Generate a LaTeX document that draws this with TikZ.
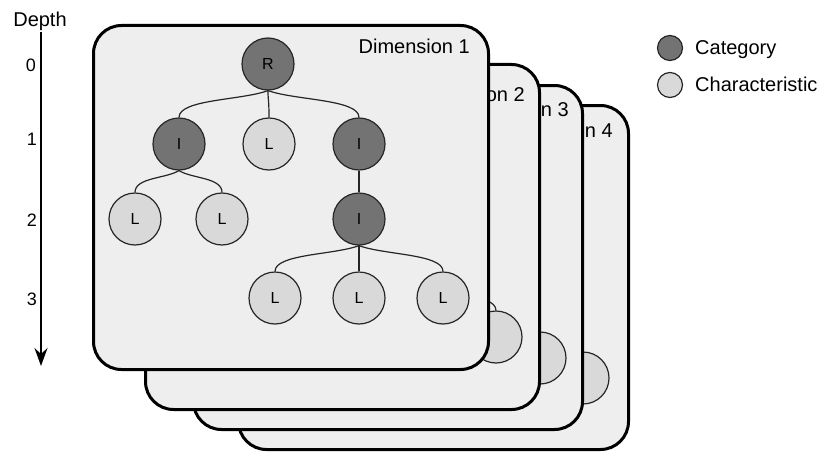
\documentclass[tikz,border=0pt]{standalone}
\usepackage{fontspec}
\setmainfont{Liberation Sans}
\usetikzlibrary{arrows.meta}
\definecolor{cardfill}{HTML}{EEEEEE}
\definecolor{catfill}{HTML}{737373}
\definecolor{charfill}{HTML}{D9D9D9}
\tikzset{
  cardbox/.style={draw=black, line width=3pt, fill=cardfill, rounded corners=28pt, inner sep=0pt, anchor=north west},
  cat/.style={circle, draw=black!85, line width=1.2pt, fill=catfill, minimum size=52pt, inner sep=0pt, font=\fontsize{16}{19}\selectfont},
  chr/.style={cat, fill=charfill},
  legdot/.style={circle, draw=black!85, line width=1.2pt, minimum size=25pt, inner sep=0pt},
  edge/.style={draw=black!85, line width=1.2pt},
  dimlabel/.style={anchor=base east, inner sep=0pt, font=\fontsize{20}{24}\selectfont},
  lbl/.style={inner sep=0pt, font=\fontsize{20}{24}\selectfont},
  digit/.style={inner sep=0pt, font=\fontsize{18}{22}\selectfont},
  axis/.style={draw=black, line width=1.2pt, -{Stealth[length=18pt,width=13pt,inset=6pt]}}
}
\newcommand\showletter[1]{#1}
\newcommand\noletter[1]{}
\newcommand\tedge[4]{\draw[edge] (#1.south) .. controls +({0.3*(#3)},{0.35*(#4)}) and +(0,{-0.65*(#4)}) .. (#2.north);}
% #1 id, #2 left, #3 top, #4 right, #5 bottom, #6 number, #7 label coordinate, #8 tree x shift, #9 letter macro for the corner leaf
\newcommand\dimcard[9]{%
  \pgfmathsetmacro\cw{#4-#2}\pgfmathsetmacro\ch{#5-#3}%
  \node[cardbox, minimum width=\cw pt, minimum height=\ch pt] (card#1) at (#2,#3) {};
  \node[dimlabel] (dim#1) at #7 {Dimension #6};
  \begin{scope}[shift={(#2+#8,#3)}]
    \node[cat] (#1R) at (176,40) {R};
    \node[cat] (#1Ia) at (87,120) {I};
    \node[chr] (#1La) at (177,120) {L};
    \node[cat] (#1Ib) at (267,120) {I};
    \node[chr] (#1Lb) at (43,195) {L};
    \node[chr] (#1Lc) at (130,195) {L};
    \node[cat] (#1Ic) at (267,195) {I};
    \node[chr] (#1Ld) at (183,274) {L};
    \node[chr] (#1Le) at (267,274) {L};
    \node[chr] (#1Lf) at (351,274) {#9{L}};
  \end{scope}
  \tedge{#1R}{#1Ia}{-89}{28}
  \tedge{#1R}{#1La}{0}{28}
  \tedge{#1R}{#1Ib}{91}{28}
  \tedge{#1Ia}{#1Lb}{-44}{23}
  \tedge{#1Ia}{#1Lc}{43}{23}
  \tedge{#1Ib}{#1Ic}{0}{23}
  \tedge{#1Ic}{#1Ld}{-84}{27}
  \tedge{#1Ic}{#1Le}{0}{27}
  \tedge{#1Ic}{#1Lf}{84}{27}
}
\begin{document}
\begin{tikzpicture}[x=1pt,y=-1pt]
\useasboundingbox (0,0) rectangle (824,452);
% stacked dimension cards, back to front
\dimcard{d}{237}{104}{627}{448}{4}{(613,137)}{-5}{\noletter}
\dimcard{c}{192}{84}{581}{428}{3}{(569,116)}{-3}{\noletter}
\dimcard{b}{144}{63}{538}{408}{2}{(525,101)}{1}{\noletter}
\dimcard{a}{92}{24}{487}{368}{1}{(470,53)}{0}{\showletter}
% depth axis
\node[lbl, anchor=base] (depth) at (40,27) {Depth};
\coordinate (axtop) at (41,32);
\coordinate (axbot) at (41,366);
\draw[axis] (axtop) -- (axbot);
\node[digit] (d0) at (31,65) {0};
\node[digit] (d1) at (32,139) {1};
\node[digit] (d2) at (32,220) {2};
\node[digit] (d3) at (32,299) {3};
% legend
\node[legdot, fill=catfill] (legcat) at (670,48) {};
\node[legdot, fill=charfill] (legchr) at (670,85) {};
\node[lbl, anchor=base west] (legcattxt) at (695,55) {Category};
\node[lbl, anchor=base west] (legchrtxt) at (695,92) {Characteristic};
\end{tikzpicture}
\end{document}
